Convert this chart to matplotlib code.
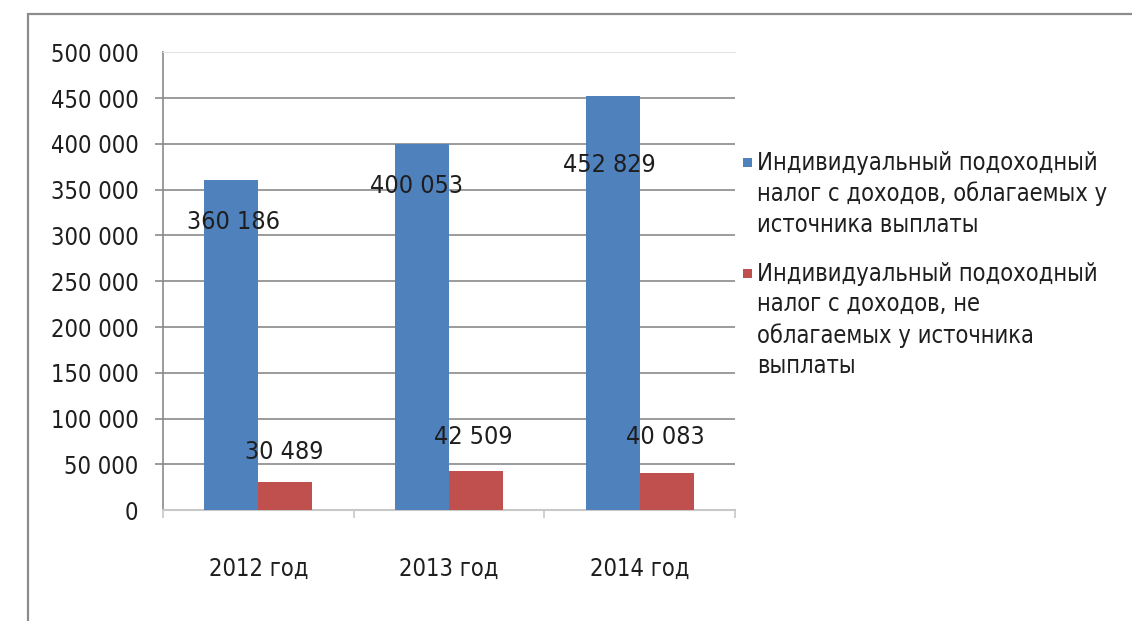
import matplotlib
matplotlib.use("Agg")
import matplotlib.pyplot as plt
from matplotlib.patches import Rectangle
from matplotlib.ticker import FuncFormatter, FixedLocator

years = ["2012 год", "2013 год", "2014 год"]
withheld = [360186, 400053, 452829]        # облагаемые у источника выплаты
not_withheld = [30489, 42509, 40083]       # не облагаемые у источника выплаты
y_ticks = [0, 50000, 100000, 150000, 200000, 250000, 300000, 350000, 400000, 450000, 500000]

legend_labels = [
    "Индивидуальный подоходный\nналог с доходов, облагаемых у\nисточника выплаты",
    "Индивидуальный подоходный\nналог с доходов, не\nоблагаемых у источника\nвыплаты",
]

# label offsets in pixels (label centre relative to bar top)
blue_offsets = [(2, -42), (-5, -42), (-3, -69)]
red_offsets = [(-1, 30), (-3, 34), (-1, 36)]

plt.rcParams['font.family'] = ['DejaVu Sans']
plt.rcParams['font.stretch'] = 'condensed'

BLUE = "#4F81BD"
RED = "#C0504D"
GRID = "#8a8a8a"
TXT = "#1e1e1e"

fig = plt.figure(figsize=(11.32, 6.21), dpi=100)
ax = fig.add_axes([0.144, 0.1787, 0.5053, 0.7368])

x = list(range(len(years)))
w = 0.284
b1 = ax.bar([i - w / 2 for i in x], withheld, width=w, color=BLUE, zorder=3)
b2 = ax.bar([i + w / 2 for i in x], not_withheld, width=w, color=RED, zorder=3)

for rect, v, (dx, dy) in zip(b1, withheld, blue_offsets):
    ax.annotate(f"{v:,}".replace(",", " "), (rect.get_x() + rect.get_width() / 2, v),
                xytext=(dx, dy), textcoords="offset pixels", ha="center", va="center",
                fontsize=18, color=TXT, zorder=4)
for rect, v, (dx, dy) in zip(b2, not_withheld, red_offsets):
    ax.annotate(f"{v:,}".replace(",", " "), (rect.get_x() + rect.get_width() / 2, v),
                xytext=(dx, dy), textcoords="offset pixels", ha="center", va="center",
                fontsize=18, color=TXT, zorder=4)

ax.set_xlim(-0.5, 2.5)
ax.set_ylim(0, 500000)

ax.yaxis.set_major_locator(FixedLocator(y_ticks))
ax.yaxis.set_major_formatter(FuncFormatter(lambda v, p: f"{int(v):,}".replace(",", " ")))
ax.tick_params(axis="y", length=5.8, width=1.2, color=GRID, pad=12, labelsize=17,
               labelcolor=TXT)
ax.grid(axis="y", color=GRID, linewidth=1.2, zorder=0)
yt = ax.yaxis.get_major_ticks()
for t in (yt[0], yt[-1]):
    t.tick1line.set_visible(False)
    t.gridline.set_visible(False)

ax.set_xticks(x)
ax.set_xticklabels(years)
ax.set_xticks([-0.5, 0.5, 1.5, 2.5], minor=True)
ax.tick_params(axis="x", which="major", length=0, pad=34, labelsize=17, labelcolor=TXT)
ax.tick_params(axis="x", which="minor", length=6, width=1.2, color="#c8c8c8")

ax.spines["right"].set_visible(False)
ax.spines["top"].set_color("#e4e4e4")
ax.spines["left"].set_color(GRID)
ax.spines["left"].set_linewidth(1.2)
ax.spines["bottom"].set_color("#c8c8c8")
ax.spines["bottom"].set_linewidth(1.5)

# legend, square marker aligned with the first line
fw, fh = fig.get_size_inches() * fig.dpi
leg_top = [162, 273]
for bars, label, ytop in zip((b1, b2), legend_labels, leg_top):
    fig.patches.append(Rectangle((743 / fw, 1 - (ytop + 4.5) / fh), 9 / fw, 9 / fh,
                                 transform=fig.transFigure, facecolor=bars[0].get_facecolor(),
                                 edgecolor="none"))
    fig.text(757 / fw, 1 - (ytop - 11) / fh, label, ha="left", va="top", fontsize=17,
             color=TXT, linespacing=1.33)

# chart border (right and bottom run off the picture)
fig.patches.append(Rectangle((28 / fw, -0.1), 1.2, 1.1 - 14 / fh, transform=fig.transFigure,
                             facecolor="none", edgecolor="#8c8c8c", linewidth=1.6))

fig.savefig("out.png", dpi=100)
